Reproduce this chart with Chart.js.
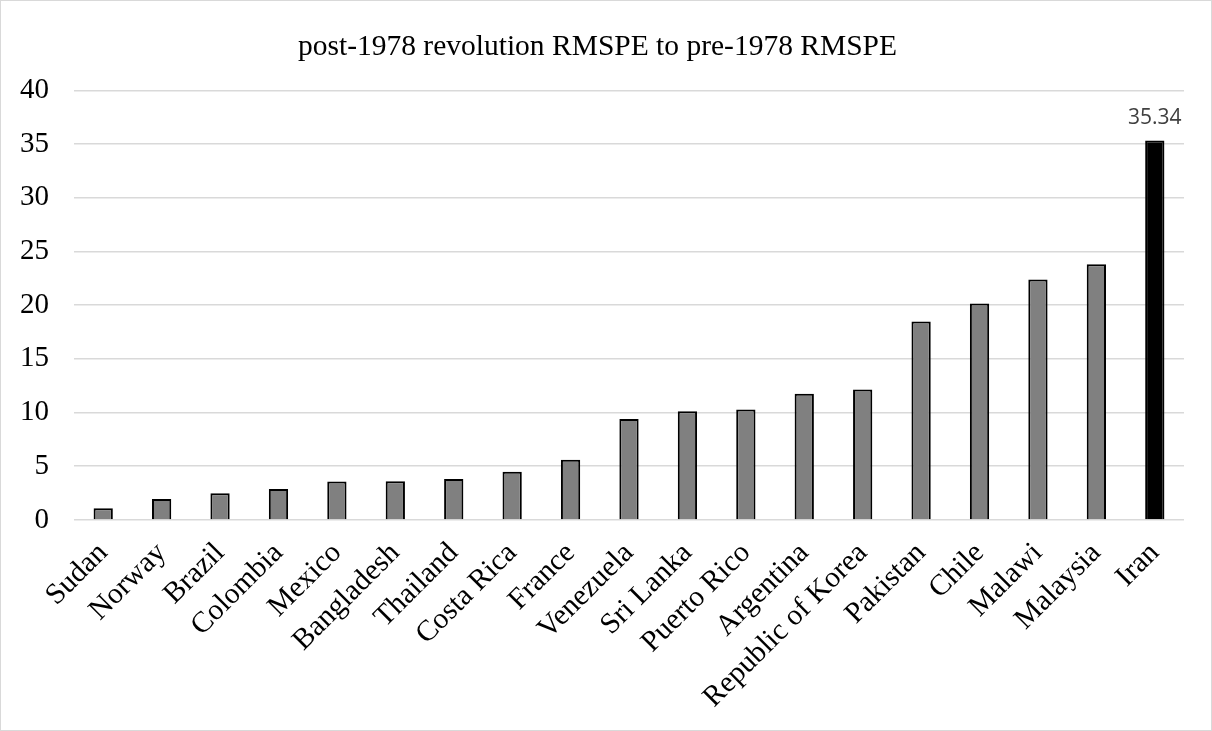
<!DOCTYPE html>
<html>
<head>
<meta charset="utf-8">
<script src="https://cdn.jsdelivr.net/npm/chart.js@4"></script>
<style>
    body { margin: 0; background: #fff; }
    #wrap { width: 1212px; height: 731px; box-sizing: border-box; border: 1px solid #d9d9d9; }
</style>
</head>
<body>
<div id="wrap"><canvas id="rmspeChart" width="1210" height="729"></canvas></div>
<script>
// countries sorted by ratio, Iran last
var countries = ['Sudan', 'Norway', 'Brazil', 'Colombia', 'Mexico', 'Bangladesh', 'Thailand', 'Costa Rica', 'France',
    'Venezuela', 'Sri Lanka', 'Puerto Rico', 'Argentina', 'Republic of Korea', 'Pakistan', 'Chile', 'Malawi', 'Malaysia', 'Iran'];
var ratios = [1.08, 1.95, 2.48, 2.88, 3.58, 3.6, 3.8, 4.48, 5.6,
    9.4, 10.12, 10.28, 11.75, 12.15, 18.47, 20.15, 22.38, 23.8, 35.34];
var yTicks = [0, 5, 10, 15, 20, 25, 30, 35, 40];
var labelled = ['Iran']; // only this bar gets a value label

var serif = "'Liberation Serif', 'Times New Roman', serif";

const barColors = countries.map(c => c === 'Iran' ? '#000000' : '#808080');

// draws the value on top of the labelled bars
const valueLabels = {
    id: 'valueLabels',
    afterDatasetsDraw(chart) {
        const ctx = chart.ctx;
        const meta = chart.getDatasetMeta(0);
        ctx.save();
        ctx.font = "21px 'Open Sans', 'Liberation Sans', sans-serif";
        ctx.fillStyle = '#404040';
        ctx.textAlign = 'center';
        ctx.textBaseline = 'bottom';
        meta.data.forEach((bar, i) => {
            if (labelled.indexOf(countries[i]) === -1) return;
            ctx.fillText(ratios[i].toFixed(2), bar.x, bar.y - 12);
        });
        ctx.restore();
    }
};

new Chart(document.getElementById('rmspeChart').getContext('2d'), {
    type: 'bar',
    data: {
        labels: countries,
        datasets: [{
            data: ratios,
            backgroundColor: barColors,
            borderColor: '#000000',
            borderWidth: 2,
            barPercentage: 0.33,
            categoryPercentage: 1
        }]
    },
    options: {
        responsive: false,
        animation: false,
        layout: { padding: { left: 10, right: 27, bottom: 7 } },
        plugins: {
            legend: { display: false },
            tooltip: { enabled: false },
            title: {
                display: true,
                text: 'post-1978 revolution RMSPE to pre-1978 RMSPE',
                color: '#000',
                font: { family: serif, size: 29.5, weight: 'normal' },
                padding: { top: 29, bottom: 25 }
            }
        },
        scales: {
            x: {
                grid: { display: false },
                border: { display: false },
                ticks: {
                    color: '#000',
                    font: { family: serif, size: 29.5 },
                    minRotation: 45,
                    maxRotation: 45,
                    autoSkip: false,
                    padding: 8
                }
            },
            y: {
                min: 0,
                max: 40,
                afterBuildTicks: axis => { axis.ticks = yTicks.map(v => ({ value: v })); },
                afterFit: axis => { axis.width = 63; },
                border: { display: false },
                grid: { color: '#d9d9d9', lineWidth: 1.5, drawTicks: false },
                ticks: {
                    color: '#000',
                    font: { family: serif, size: 29 },
                    padding: 25
                }
            }
        }
    },
    plugins: [valueLabels]
});
</script>
</body>
</html>
